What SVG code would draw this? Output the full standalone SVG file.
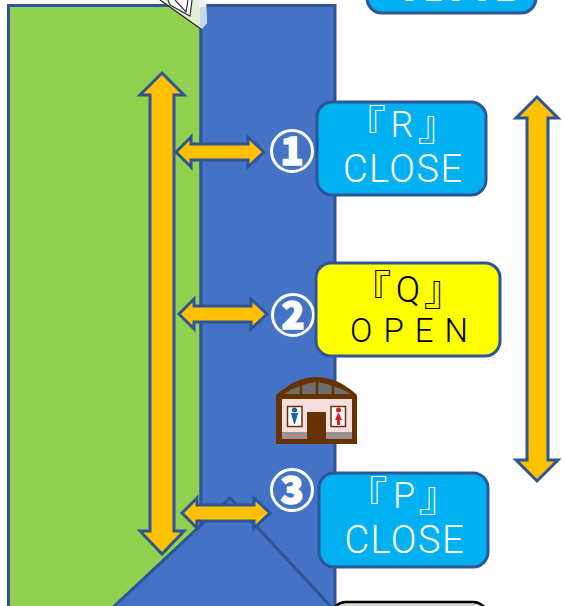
<svg xmlns="http://www.w3.org/2000/svg" width="564" height="606" viewBox="0 0 564 606">
<style>
.land{stroke:#2f5597;stroke-width:3}
.arrow{fill:#ffc000;stroke:#2f5597;stroke-width:3;stroke-linejoin:miter}
.box{stroke:#2f5597;stroke-width:3}
.t{font-family:Roboto,"Noto Sans CJK JP",sans-serif;font-weight:300;font-size:38px;text-anchor:middle}
.b{font-size:36px}
.br{font-size:41px}
.w{fill:#fff}
.k{fill:#000}
.num{font-family:"Noto Sans CJK JP","DejaVu Sans",sans-serif;font-size:38px;font-weight:900;fill:#fff;stroke:#fff;stroke-width:1.500;text-anchor:middle}
.ring{fill:none;stroke:#fff;stroke-width:3}
</style>
<g id="land">
<path class="land" d="M8.500 5.500H201V612H8.500Z" fill="#92d050"/>
<path class="land" d="M201 5.500H335V612H201Z" fill="#4472c4"/>
<path class="land" d="M108 612L230 498L336 612Z" fill="#4472c4"/>
</g>
<g id="gate">
<path d="M160 0L201 29L207 23L206 0Z" fill="#e2efd9"/>
<path d="M200 7H206L207 23L202 29L200 26Z" fill="#c9d6ea"/>
<path d="M198 0H206V7H200Z" fill="#eef2f8"/>
<path d="M160 0L201 29" fill="none" stroke="#222" stroke-width="1.200"/>
<path d="M168 0L170 5L190 16L192 0" fill="#fff" stroke="#333" stroke-width="1.200"/>
<path d="M175 0L186 12L188 0" fill="#fff" stroke="#333" stroke-width="1.200"/>
</g>
<g id="connectors">
<path class="arrow" d="M162 73L184 95H174V531H184L162 554L140 531H150V95H140Z"/>
<path class="arrow" d="M537 97L558 118H548V460H558L537 481L516 460H527V118H516Z"/>
<path class="arrow" d="M176 152L191 137V144H248V137L264 152L248 167V160H191V167Z"/>
<path class="arrow" d="M179 314L194 299V306H251V299L267 314L251 329V322H194V329Z"/>
<path class="arrow" d="M182 513L197 498V505H254V498L270 513L254 528V521H197V528Z"/>
</g>
<g id="n1"><circle class="ring" cx="292" cy="151" r="20.500"/><text class="num" x="292" y="165">1</text></g>
<g id="n2"><circle class="ring" cx="293" cy="315" r="20.500"/><text class="num" x="293" y="329">2</text></g>
<g id="n3"><circle class="ring" cx="292" cy="490" r="20.500"/><text class="num" x="292" y="504">3</text></g>
<g id="top-box"><rect class="box" x="367" y="-40" width="169" height="53" rx="15" fill="#00b0f0"/>
<text class="t w" x="456" y="1" textLength="119" lengthAdjust="spacing">CLOSE</text></g>
<g id="box-r"><rect class="box" x="317" y="102" width="169" height="93" rx="15" fill="#00b0f0"/>
<text class="t b w"><tspan class="br" x="365.500" y="140">『</tspan><tspan x="402" y="137">R</tspan><tspan class="br" x="438" y="140">』</tspan></text><text class="t w" x="402.500" y="182" textLength="119" lengthAdjust="spacing">CLOSE</text></g>
<g id="box-q"><rect class="box" x="316" y="263" width="184" height="93" rx="15" fill="#ffff00"/>
<text class="t b k"><tspan class="br" x="371" y="305">『</tspan><tspan x="408" y="302">Q</tspan><tspan class="br" x="444" y="305">』</tspan></text><text class="t k" x="409" y="342" style="font-size:33px" textLength="118" lengthAdjust="spacing">OPEN</text></g>
<g id="box-p"><rect class="box" x="319" y="473" width="169" height="94" rx="15" fill="#00b0f0"/>
<text class="t b w"><tspan class="br" x="367" y="511">『</tspan><tspan x="404" y="508">P</tspan><tspan class="br" x="439" y="511">』</tspan></text><text class="t w" x="404" y="553" textLength="119" lengthAdjust="spacing">CLOSE</text></g>
<g id="box-bottom"><rect x="331" y="602" width="157" height="50" rx="15" fill="#d9d9d9" stroke="#000" stroke-width="2.500"/></g>
<g id="restroom">
<path d="M276 395C290 383 302 377 316 377C331 377 344 383 357 395V444H276Z" fill="#663300"/>
<path d="M282 399H352V439H282Z" fill="#f8dfdf"/>
<path d="M284 394Q300 384 316 382Q333 384 351 394Z" fill="#6e6e6e"/>
<path d="M301 382V395M317 380V395M333 382V395" stroke="#663300" stroke-width="2.500"/>
<rect x="282" y="432" width="70" height="7" fill="#a09090"/>
<rect x="307" y="412" width="19" height="32" fill="#663300"/>
<rect x="287.500" y="406.500" width="14.500" height="20" fill="#fff" stroke="#663300" stroke-width="1.500"/>
<rect x="331" y="406.500" width="14.500" height="20" fill="#fff" stroke="#663300" stroke-width="1.500"/>
<circle cx="294.500" cy="410" r="2.500" fill="#1565a8"/>
<path d="M291 413H298L295 424H294Z" fill="#1565a8"/>
<circle cx="338.500" cy="410" r="2.500" fill="#e01b24"/>
<path d="M338 413H339L342 420H340V425H337V420H335Z" fill="#e01b24"/>
</g>
</svg>
